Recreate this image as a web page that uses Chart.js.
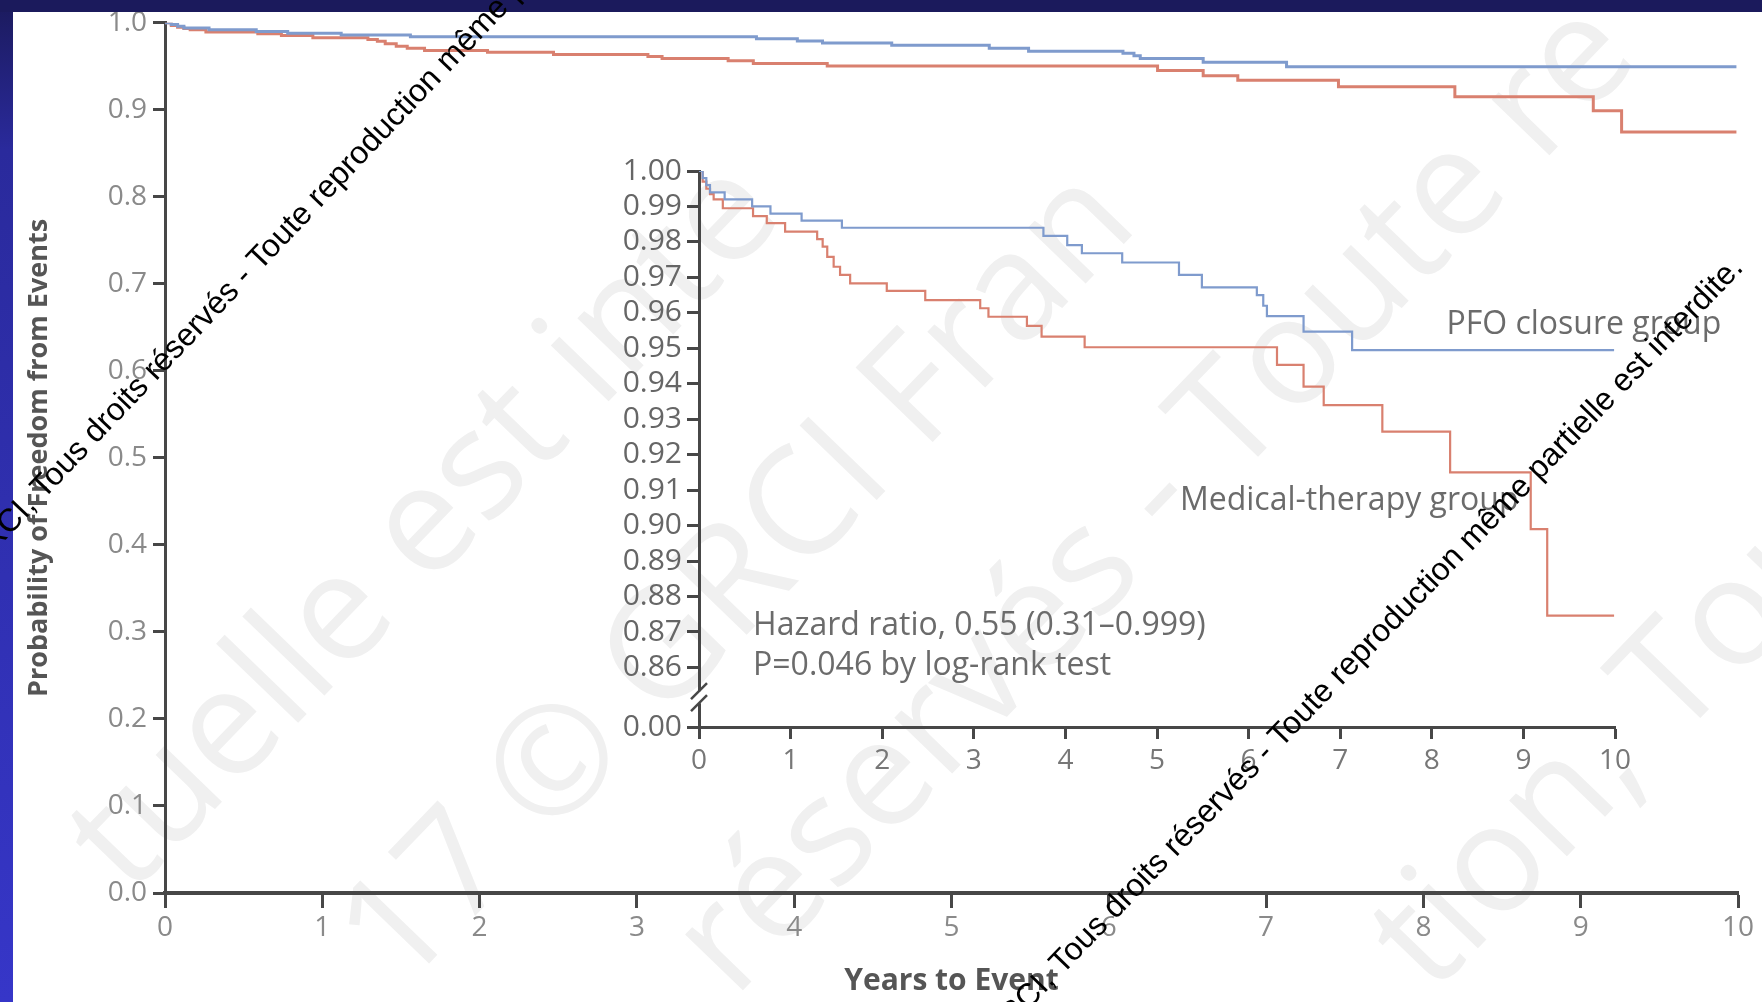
<!DOCTYPE html>
<html lang="en">
<head>
<meta charset="UTF-8">
<title>Probability of Freedom from Events</title>
<script src="https://cdn.jsdelivr.net/npm/chart.js@4.4.1/dist/chart.umd.min.js"></script>
<style>
  html, body { margin: 0; padding: 0; background: #fff; overflow: hidden; }
  #wrap { position: relative; width: 1762px; height: 1002px; }
  #wrap canvas { position: absolute; left: 0; top: 0; }
</style>
</head>
<body>
<div id="wrap">
  <canvas id="mainChart" width="1762" height="1002"></canvas>
  <canvas id="insetChart" width="1762" height="1002"></canvas>
</div>
<script>
// Kaplan-Meier steps (years to event, probability)
const pfoYears = [0, 0.04, 0.08, 0.12, 0.28, 0.58, 0.78, 1.12, 1.56, 3.76, 4.02, 4.18, 4.62, 5.24, 5.49, 6.09, 6.16, 6.20, 6.60, 7.13, 9.99];
const pfoSurv  = [1.000, 0.998, 0.996, 0.994, 0.992, 0.990, 0.988, 0.986, 0.984, 0.9817, 0.9791, 0.9768, 0.9742, 0.9707, 0.9672, 0.9650, 0.9620, 0.9591, 0.9547, 0.9495, 0.9495];

const medYears = [0, 0.04, 0.08, 0.12, 0.16, 0.26, 0.59, 0.74, 0.94, 1.29, 1.35, 1.40, 1.47, 1.54, 1.65, 2.05, 2.47, 3.07, 3.16, 3.58, 3.74, 4.21, 6.31, 6.60, 6.82, 7.46, 8.20, 9.08, 9.26, 9.99];
const medSurv  = [1.000, 0.997, 0.995, 0.9935, 0.992, 0.9895, 0.9873, 0.9853, 0.9829, 0.9808, 0.9787, 0.9758, 0.9730, 0.9707, 0.9683, 0.9662, 0.9636, 0.9613, 0.9589, 0.9563, 0.9533, 0.9503, 0.9453, 0.9392, 0.9340, 0.9265, 0.9150, 0.8990, 0.8746, 0.8746];

// axis ticks
const xTicks = [0, 1, 2, 3, 4, 5, 6, 7, 8, 9, 10];
const mainYTicks = [0.0, 0.1, 0.2, 0.3, 0.4, 0.5, 0.6, 0.7, 0.8, 0.9, 1.0];
const insetYTicks = [0.86, 0.87, 0.88, 0.89, 0.90, 0.91, 0.92, 0.93, 0.94, 0.95, 0.96, 0.97, 0.98, 0.99, 1.00];
const insetBreakValue = 0.8432;   // where the "0.00" tick sits below the axis break
const insetBreakLabel = '0.00';

const seriesNames = ['PFO closure group', 'Medical-therapy group'];
const statsLines = ['Hazard ratio, 0.55 (0.31\u20130.999)', 'P=0.046 by log-rank test'];
const watermarkText = '\u00A9GRCI, Tous droits r\u00E9serv\u00E9s - Toute reproduction m\u00EAme partielle est interdite.';
// big pale background stamp, pieces visible on the slide
const stampPieces = ['tuelle est inte', '17 \u00A9 GRCI Fran', 'r\u00E9serv\u00E9s - Toute re', 'tion, Tous'];

const BLUE = '#7f9bcd';
const RED = '#d9806f';
const AXIS = '#474747';
const FONT = "'Open Sans', 'DejaVu Sans', sans-serif";

function toPoints(xs, ys) {
  return xs.map((x, i) => ({ x: x, y: ys[i] }));
}

function makeDatasets(width) {
  return [
    { label: seriesNames[0], data: toPoints(pfoYears, pfoSurv), borderColor: BLUE, borderWidth: width,
      stepped: true, pointRadius: 0, fill: false },
    { label: seriesNames[1], data: toPoints(medYears, medSurv), borderColor: RED, borderWidth: width,
      stepped: true, pointRadius: 0, fill: false }
  ];
}

// pale stamp under everything
const stampPlugin = {
  id: 'stamp',
  beforeDraw(chart) {
    const ctx = chart.ctx;
    ctx.save();
    ctx.fillStyle = '#f0f0f0';
    ctx.font = "150px 'Open Sans', sans-serif";
    ctx.textAlign = 'center';
    ctx.textBaseline = 'middle';
    [[427, 528], [740, 580], [1157, 500], [1640, 719]].forEach(([x, y], i) => {
      ctx.save();
      ctx.translate(x, y);
      ctx.rotate(-46 * Math.PI / 180);
      ctx.fillText(stampPieces[i], 0, 0);
      ctx.restore();
    });
    ctx.restore();
  }
};

// blue slide frame (top + left bands)
const framePlugin = {
  id: 'frame',
  afterDraw(chart) {
    const ctx = chart.ctx;
    ctx.save();
    const g = ctx.createLinearGradient(0, 0, 0, chart.height);
    g.addColorStop(0, '#1b1a5c');
    g.addColorStop(0.15, '#2a2a9c');
    g.addColorStop(1, '#3636c8');
    ctx.fillStyle = g;
    ctx.fillRect(0, 0, 13, chart.height);
    ctx.fillStyle = '#1b1a5c';
    ctx.fillRect(0, 0, chart.width, 12);
    ctx.restore();
  }
};

// axis break "//" on the inset y axis + group labels and stats
const insetDecor = {
  id: 'insetDecor',
  afterDraw(chart) {
    const ctx = chart.ctx;
    const xs = chart.scales.x, ys = chart.scales.y;
    const ax = chart.chartArea.left;
    const mid = (ys.getPixelForValue(insetYTicks[0]) + chart.chartArea.bottom) / 2;
    ctx.save();
    ctx.fillStyle = '#fff';
    ctx.fillRect(ax - 4, mid - 6, 8, 12);
    ctx.strokeStyle = AXIS;
    ctx.lineWidth = 2.5;
    [-6, 6].forEach(d => {
      ctx.beginPath();
      ctx.moveTo(ax - 8, mid + d + 8);
      ctx.lineTo(ax + 8, mid + d - 8);
      ctx.stroke();
    });

    ctx.fillStyle = '#6b6b6b';
    ctx.font = '32px ' + FONT;
    ctx.textAlign = 'left';
    ctx.textBaseline = 'middle';
    ctx.fillText(seriesNames[0], xs.getPixelForValue(8.16), ys.getPixelForValue(0.9566));
    ctx.fillText(seriesNames[1], xs.getPixelForValue(5.25), ys.getPixelForValue(0.9070));
    ctx.fillText(statsLines[0], xs.getPixelForValue(0.59), ys.getPixelForValue(0.8718));
    ctx.fillText(statsLines[1], xs.getPixelForValue(0.59), ys.getPixelForValue(0.8605));
    ctx.restore();
  }
};

// diagonal copyright text laid over the slide
const watermark = {
  id: 'watermark',
  afterDraw(chart) {
    const ctx = chart.ctx;
    ctx.save();
    ctx.font = "32px 'Liberation Sans', Arial, sans-serif";
    ctx.fillStyle = '#000';
    ctx.textBaseline = 'middle';
    const pre = ctx.measureText('\u00A9GRCI, ').width;
    [[37, 494, -46.5], [1056, 969, -46]].forEach(([x, y, a]) => {
      ctx.save();
      ctx.translate(x, y);
      ctx.rotate(a * Math.PI / 180);
      ctx.fillText(watermarkText, -pre, 0);
      ctx.restore();
    });
    ctx.restore();
  }
};

// main chart, full 0-1 scale
new Chart(document.getElementById('mainChart'), {
  type: 'line',
  data: { datasets: makeDatasets(3) },
  options: {
    responsive: false,
    animation: false,
    events: [],
    layout: { padding: { left: 0, right: 24, top: 20, bottom: 0 } },
    plugins: { legend: { display: false }, tooltip: { enabled: false } },
    scales: {
      x: {
        type: 'linear', min: 0, max: 10,
        afterBuildTicks: s => { s.ticks = xTicks.map(v => ({ value: v })); },
        afterFit: s => { s.height = 109; },
        grid: { drawOnChartArea: false, drawTicks: true, tickLength: 15, tickWidth: 3, tickColor: AXIS },
        border: { display: true, color: AXIS, width: 4 },
        ticks: { color: '#8a8a8a', font: { family: FONT, size: 28 }, padding: 3, maxRotation: 0, autoSkip: false },
        title: { display: true, text: 'Years to Event', color: '#555',
                 font: { family: FONT, size: 30, weight: 'bold' }, padding: { top: 0, bottom: 3 } }
      },
      y: {
        type: 'linear', min: 0, max: 1,
        afterBuildTicks: s => { s.ticks = mainYTicks.map(v => ({ value: v })); },
        afterFit: s => { s.width = 165; },
        grid: { drawOnChartArea: false, drawTicks: true, tickLength: 12, tickWidth: 3, tickColor: AXIS },
        border: { display: true, color: AXIS, width: 3 },
        ticks: { color: '#8a8a8a', font: { family: FONT, size: 28 }, padding: 6, autoSkip: false,
                 callback: v => v.toFixed(1) },
        title: { display: true, text: 'Probability of Freedom from Events', color: '#555',
                 font: { family: FONT, size: 27, weight: 'bold' }, padding: { top: 23, bottom: 0 } }
      }
    }
  },
  plugins: [stampPlugin, framePlugin]
});

// inset, zoomed 0.86-1.00 with a broken axis
new Chart(document.getElementById('insetChart'), {
  type: 'line',
  data: { datasets: makeDatasets(2.2) },
  options: {
    responsive: false,
    animation: false,
    events: [],
    layout: { padding: { left: 0, right: 147, top: 171, bottom: 0 } },
    plugins: { legend: { display: false }, tooltip: { enabled: false } },
    scales: {
      x: {
        type: 'linear', min: 0, max: 10,
        afterBuildTicks: s => { s.ticks = xTicks.map(v => ({ value: v })); },
        afterFit: s => { s.height = 275; },
        grid: { drawOnChartArea: false, drawTicks: true, tickLength: 12, tickWidth: 3, tickColor: AXIS },
        border: { display: true, color: AXIS, width: 3 },
        ticks: { color: '#777', font: { family: FONT, size: 28 }, padding: 5, maxRotation: 0, autoSkip: false }
      },
      y: {
        type: 'linear', min: insetBreakValue, max: 1,
        afterBuildTicks: s => {
          s.ticks = [{ value: insetBreakValue }].concat(insetYTicks.map(v => ({ value: v })));
        },
        afterFit: s => { s.width = 699; },
        grid: { drawOnChartArea: false, drawTicks: true, tickLength: 12, tickWidth: 3, tickColor: AXIS },
        border: { display: true, color: AXIS, width: 3 },
        ticks: { color: '#666', font: { family: FONT, size: 30 }, padding: 5, autoSkip: false,
                 callback: v => (v < insetYTicks[0] - 0.005 ? insetBreakLabel : v.toFixed(2)) }
      }
    }
  },
  plugins: [insetDecor, watermark]
});
</script>
</body>
</html>
